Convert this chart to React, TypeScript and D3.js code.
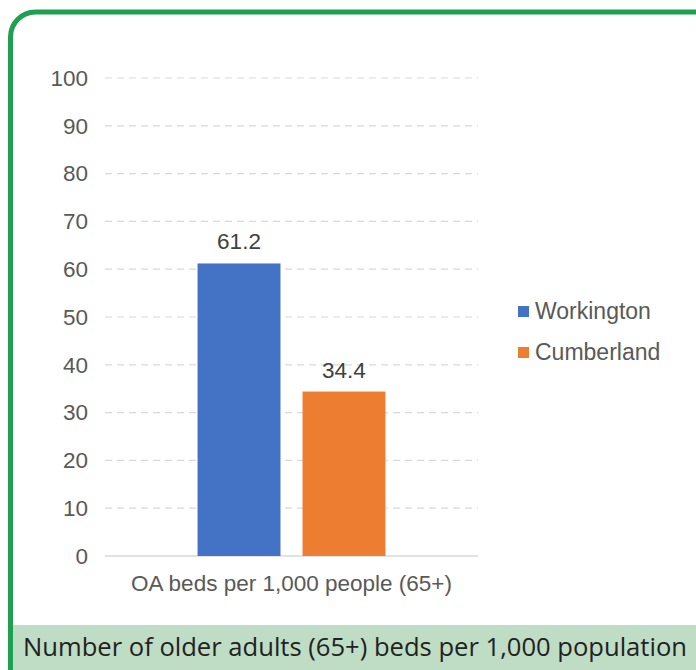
import React from "react";
import * as d3 from "d3";

const categories = ["OA beds per 1,000 people (65+)"];
const seriesNames = ["Workington", "Cumberland"];
const seriesValues = [61.2, 34.4];
const seriesColors = ["#4472c4", "#ed7d31"];
const yTicks = [0, 10, 20, 30, 40, 50, 60, 70, 80, 90, 100];
const caption = "Number of older adults (65+) beds per 1,000 population";

const W = 696;
const H = 670;

export default function App() {
  const y = d3.scaleLinear().domain([0, 100]).range([556, 78]);
  const x0 = d3.scaleBand<string>().domain(categories).range([105, 478]).paddingInner(0.33).paddingOuter(0.33);
  const x1 = d3
    .scaleBand<string>()
    .domain(seriesNames)
    .range([0, x0.bandwidth()])
    .paddingInner(0.21)
    .paddingOuter(0);
  const font = "Liberation Sans, Arial, sans-serif";

  return (
    <svg width={W} height={H} style={{ position: "absolute", left: 0, top: 0, display: "block" }}>
      <rect x={0} y={0} width={W} height={H} fill="#ffffff" />
      {/* caption band */}
      <rect x={10} y={625} width={W - 10} height={H - 625} fill="#bfdcc4" />
      {/* green border */}
      <rect x={10.5} y={12} width={720} height={700} rx={25} ry={25} fill="none" stroke="#1fa050" strokeWidth={5} />
      <text
        x={23}
        y={656}
        fontFamily="Open Sans, Noto Sans, sans-serif"
        fontSize={25}
        fill="#222222"
        textLength={664}
        lengthAdjust="spacingAndGlyphs"
      >
        {caption}
      </text>

      {/* gridlines */}
      {yTicks.filter((t) => t !== 0).map((t) => (
        <line
          key={t}
          x1={105}
          x2={478}
          y1={y(t)}
          y2={y(t)}
          stroke="#d9d9d9"
          strokeWidth={1.2}
          strokeDasharray="7 5"
        />
      ))}
      <line x1={105} x2={478} y1={y(0)} y2={y(0)} stroke="#d9d9d9" strokeWidth={1.5} />

      {/* y tick labels */}
      {yTicks.map((t) => (
        <text
          key={t}
          x={88}
          y={y(t)}
          dy="0.35em"
          textAnchor="end"
          fontFamily={font}
          fontSize={22.5}
          fill="#595959"
        >
          {t}
        </text>
      ))}

      {/* bars */}
      {categories.map((c) => (
        <g key={c} transform={`translate(${x0(c)},0)`}>
          {seriesNames.map((s, i) => (
            <g key={s}>
              <rect
                x={x1(s)}
                y={y(seriesValues[i])}
                width={x1.bandwidth()}
                height={y(0) - y(seriesValues[i])}
                fill={seriesColors[i]}
              />
              <text
                x={(x1(s) as number) + x1.bandwidth() / 2}
                y={y(seriesValues[i]) - 14}
                textAnchor="middle"
                fontFamily={font}
                fontSize={22.5}
                fill="#404040"
              >
                {seriesValues[i].toFixed(1)}
              </text>
            </g>
          ))}
          <text
            x={x0.bandwidth() / 2}
            y={591}
            textAnchor="middle"
            fontFamily={font}
            fontSize={22.5}
            fill="#595959"
          >
            {c}
          </text>
        </g>
      ))}

      {/* legend */}
      {seriesNames.map((s, i) => (
        <g key={s} transform={`translate(518,${306 + i * 41})`}>
          <rect x={0} y={0} width={11} height={11} fill={seriesColors[i]} />
          <text x={17} y={13} fontFamily={font} fontSize={23} fill="#595959">
            {s}
          </text>
        </g>
      ))}
    </svg>
  );
}
